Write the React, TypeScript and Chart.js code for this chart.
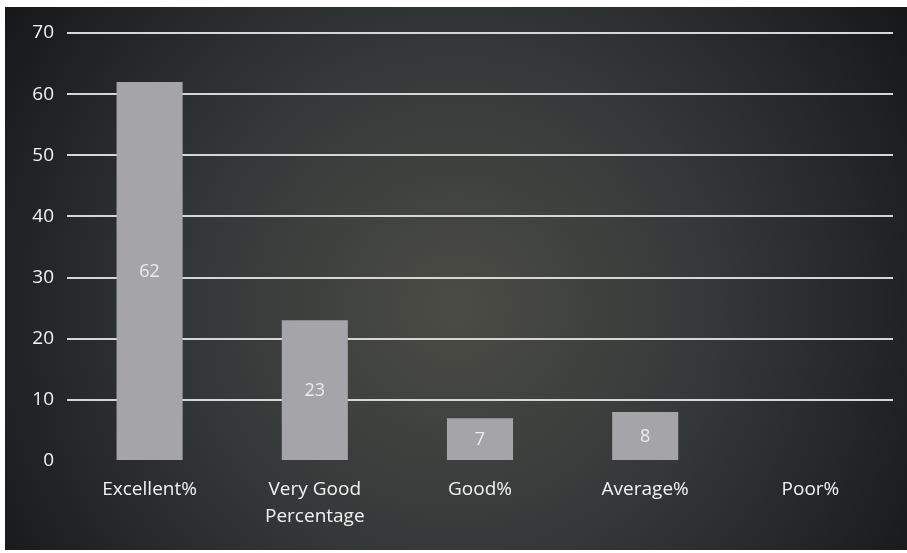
import React, { useEffect, useRef } from "react";
import { Chart, registerables } from "chart.js";

Chart.register(...registerables);

const categories: (string | string[])[] = [
  "Excellent%",
  ["Very Good", "Percentage"],
  "Good%",
  "Average%",
  "Poor%",
];
const values: number[] = [62, 23, 7, 8, 0];
const yMin = 0;
const yMax = 70;
const yStep = 10;

const FONT = "'Open Sans', Lato, sans-serif";

const bgPlugin = {
  id: "bgGradient",
  beforeDraw(chart: any) {
    const { ctx, width, height } = chart;
    ctx.save();
    const g = ctx.createRadialGradient(
      width * 0.5,
      height * 0.55,
      10,
      width * 0.5,
      height * 0.55,
      Math.max(width, height) * 0.62
    );
    g.addColorStop(0, "#4a4b44");
    g.addColorStop(0.45, "#353839");
    g.addColorStop(1, "#141517");
    ctx.fillStyle = g;
    ctx.fillRect(0, 0, width, height);
    ctx.restore();
  },
};

const valueLabelPlugin = {
  id: "valueLabels",
  afterDatasetsDraw(chart: any) {
    const { ctx } = chart;
    const meta = chart.getDatasetMeta(0);
    const data = chart.data.datasets[0].data as number[];
    ctx.save();
    ctx.fillStyle = "#ededed";
    ctx.font = `18px ${FONT}`;
    ctx.textAlign = "center";
    ctx.textBaseline = "middle";
    meta.data.forEach((el: any, i: number) => {
      const v = data[i];
      if (!v) return;
      const p = el.getProps(["x", "y", "base"], true);
      ctx.fillText(String(v), p.x, (p.y + p.base) / 2 + 1);
    });
    ctx.restore();
  },
};

export default function App() {
  const ref = useRef<HTMLCanvasElement | null>(null);

  useEffect(() => {
    if (!ref.current) return;
    const chart = new Chart(ref.current, {
      type: "bar",
      data: {
        labels: categories,
        datasets: [
          {
            data: values,
            backgroundColor: "#a5a5a9",
            borderWidth: 0,
            barPercentage: 0.4,
            categoryPercentage: 1,
          },
        ],
      },
      options: {
        animation: false,
        responsive: false,
        maintainAspectRatio: false,
        layout: { padding: { top: 26, right: 14, left: 0, bottom: 0 } },
        plugins: {
          legend: { display: false },
          tooltip: { enabled: false },
          title: { display: false },
        },
        scales: {
          x: {
            grid: { display: false, drawTicks: false },
            border: { display: false },
            ticks: {
              color: "#f2f2f2",
              font: { family: FONT, size: 19, lineHeight: 1.42 },
              padding: 15,
              maxRotation: 0,
              autoSkip: false,
            },
            afterFit(scale: any) {
              scale.height = 89;
            },
          },
          y: {
            min: yMin,
            max: yMax,
            grid: {
              color: (c: any) =>
                c.tick && c.tick.value === 0 ? "rgba(0,0,0,0)" : "#d6d6d6",
              lineWidth: 2,
              drawTicks: false,
            },
            border: { display: false },
            ticks: {
              stepSize: yStep,
              color: "#f2f2f2",
              font: { family: FONT, size: 19 },
              padding: 13,
            },
            afterFit(scale: any) {
              scale.width = 62;
            },
          },
        },
      },
      plugins: [bgPlugin, valueLabelPlugin],
    });
    return () => chart.destroy();
  }, []);

  return (
    <div
      style={{
        position: "fixed",
        left: 0,
        top: 0,
        width: 907,
        height: 553,
        background: "#ffffff",
      }}
    >
      <canvas
        ref={ref}
        width={902}
        height={543}
        style={{ position: "absolute", left: 5, top: 7, width: 902, height: 543 }}
      />
    </div>
  );
}
